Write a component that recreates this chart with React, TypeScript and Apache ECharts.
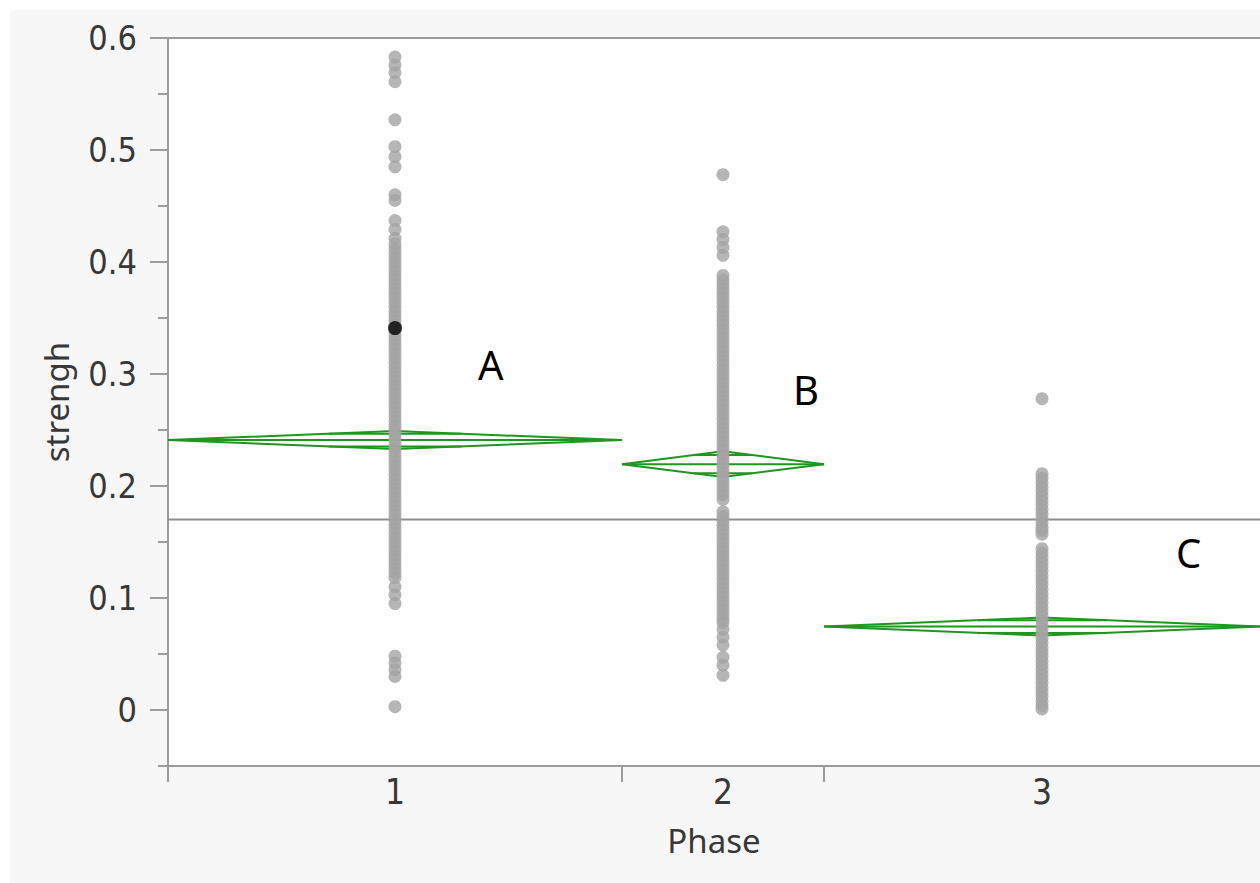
import React, { useEffect, useRef } from "react";
import * as echarts from "echarts";

const phases = ["1", "2", "3"];
const phaseWidths = [454, 202, 436];
const phaseMeans = [0.241, 0.2195, 0.0745];
const phaseCI = [0.008, 0.0115, 0.008];
const grandMean = 0.17;
const highlighted = { phase: 0, value: 0.341 };

const phase1Values = [
  0.583, 0.576, 0.569, 0.561, 0.527, 0.503, 0.494, 0.485, 0.46, 0.455, 0.437, 0.429, 0.421,
  0.416, 0.412, 0.408, 0.404, 0.4, 0.396, 0.392, 0.388, 0.384, 0.38, 0.376, 0.372, 0.368,
  0.364, 0.36, 0.356, 0.352, 0.348, 0.344, 0.338, 0.334, 0.33, 0.326, 0.322, 0.318, 0.314,
  0.31, 0.306, 0.302, 0.298, 0.294, 0.29, 0.286, 0.282, 0.278, 0.274, 0.27, 0.266, 0.262,
  0.258, 0.254, 0.25, 0.246, 0.242, 0.238, 0.234, 0.23, 0.226, 0.222, 0.218, 0.214, 0.21,
  0.206, 0.202, 0.198, 0.194, 0.19, 0.186, 0.182, 0.178, 0.174, 0.17, 0.166, 0.162, 0.158,
  0.154, 0.15, 0.146, 0.142, 0.138, 0.134, 0.13, 0.126, 0.122, 0.118,
  0.11, 0.103, 0.095, 0.048, 0.042, 0.036, 0.03, 0.003,
];
const phase2Values = [
  0.478, 0.427, 0.42, 0.413, 0.406,
  0.388, 0.384, 0.38, 0.376, 0.372, 0.368, 0.364, 0.36, 0.356, 0.352, 0.348, 0.344, 0.34,
  0.336, 0.332, 0.328, 0.324, 0.32, 0.316, 0.312, 0.308, 0.304, 0.3, 0.296, 0.292, 0.288,
  0.284, 0.28, 0.276, 0.272, 0.268, 0.264, 0.26, 0.256, 0.252, 0.248, 0.244, 0.24, 0.236,
  0.232, 0.228, 0.224, 0.22, 0.216, 0.212, 0.208, 0.204, 0.2, 0.196, 0.192, 0.188,
  0.177, 0.173, 0.169, 0.165, 0.161, 0.157, 0.153, 0.149, 0.145, 0.141, 0.137, 0.133, 0.129,
  0.125, 0.121, 0.117, 0.113, 0.109, 0.105, 0.101, 0.097, 0.093, 0.089, 0.085, 0.081, 0.078,
  0.072, 0.065, 0.058, 0.047, 0.04, 0.031,
];
const phase3Values = [
  0.278,
  0.211, 0.207, 0.203, 0.199, 0.195, 0.191, 0.187, 0.183, 0.179, 0.175, 0.171, 0.167, 0.163,
  0.16, 0.157,
  0.144, 0.14, 0.136, 0.132, 0.128, 0.124, 0.12, 0.116, 0.112, 0.108, 0.104, 0.1, 0.096,
  0.092, 0.088, 0.084, 0.08, 0.076, 0.072, 0.068, 0.064, 0.06, 0.056, 0.052, 0.048, 0.044,
  0.04, 0.036, 0.032, 0.028, 0.024, 0.02, 0.016, 0.012, 0.008, 0.004, 0.001,
];
const majorTicks = [0, 0.1, 0.2, 0.3, 0.4, 0.5, 0.6];
const minorTicks = [-0.05, 0.05, 0.15, 0.25, 0.35, 0.45, 0.55];
const annotations = ["A", "B", "C"];

const GREEN = "#1f961f";
const AXIS = "#9c9c9c";
const TEXT = "#383838";
const FONT = "'Noto Sans', 'Open Sans', sans-serif";
const NARROW = "'DejaVu Sans Condensed', 'Noto Sans', sans-serif";

export default function App() {
  const ref = useRef<HTMLDivElement>(null);
  useEffect(() => {
    if (!ref.current) return;
    const chart = echarts.init(ref.current, undefined, { renderer: "svg" });

    const bounds: number[] = [0];
    phaseWidths.forEach((w, i) => bounds.push(bounds[i] + w));
    const total = bounds[bounds.length - 1];
    const centers = phaseWidths.map((w, i) => bounds[i] + w / 2);

    const groups = [phase1Values, phase2Values, phase3Values];
    const pts: number[][] = [];
    groups.forEach((vals, g) => vals.forEach((v) => pts.push([centers[g], v])));

    const diamondData = phases.map((_, i) => [bounds[i], bounds[i + 1], phaseMeans[i], phaseCI[i]]);

    const option: any = {
      animation: false,
      grid: {
        left: 158,
        top: 28,
        right: 0,
        bottom: 117,
        show: true,
        backgroundColor: "#ffffff",
        borderWidth: 0,
      },
      xAxis: [
        {
          type: "value",
          min: 0,
          max: total,
          position: "bottom",
          name: "Phase",
          nameLocation: "middle",
          nameGap: 58,
          nameTextStyle: { fontFamily: FONT, fontSize: 33, color: TEXT },
          axisLine: { show: true, onZero: false, lineStyle: { color: AXIS, width: 2 } },
          axisTick: {
            show: true,
            customValues: bounds.slice(0, 3),
            length: 16,
            lineStyle: { color: AXIS, width: 2 },
          },
          axisLabel: {
            customValues: centers,
            formatter: (v: number) => {
              const i = centers.findIndex((c) => Math.abs(c - v) < 0.5);
              return i >= 0 ? phases[i] : "";
            },
            margin: 8,
            fontFamily: NARROW,
            fontSize: 35,
            lineHeight: 36,
            color: TEXT,
          },
          splitLine: { show: false },
        },
        {
          type: "value",
          min: 0,
          max: total,
          position: "top",
          axisLine: { show: true, onZero: false, lineStyle: { color: AXIS, width: 2 } },
          axisTick: { show: false },
          axisLabel: { show: false },
          splitLine: { show: false },
        },
      ],
      yAxis: [
        {
          type: "value",
          min: -0.05,
          max: 0.6,
          name: "strengh",
          nameLocation: "middle",
          nameRotate: 90,
          nameGap: 95,
          nameTextStyle: { fontFamily: FONT, fontSize: 33, color: TEXT },
          axisLine: { show: true, onZero: false, lineStyle: { color: AXIS, width: 2 } },
          axisTick: {
            show: true,
            customValues: majorTicks,
            length: 18,
            lineStyle: { color: AXIS, width: 2 },
          },
          axisLabel: {
            customValues: majorTicks,
            formatter: (v: number) => (Math.abs(v) < 1e-9 ? "0" : v.toFixed(1)),
            margin: 31,
            fontFamily: NARROW,
            fontSize: 34,
            color: TEXT,
          },
          splitLine: { show: false },
        },
        {
          type: "value",
          min: -0.05,
          max: 0.6,
          position: "left",
          axisLine: { show: false, onZero: false },
          axisTick: {
            show: true,
            customValues: minorTicks,
            length: 10,
            lineStyle: { color: AXIS, width: 2 },
          },
          axisLabel: { show: false },
          splitLine: { show: false },
        },
      ],
      series: [
        {
          type: "line",
          data: [
            [0, grandMean],
            [total, grandMean],
          ],
          symbol: "none",
          lineStyle: { color: "#8e8e8e", width: 2 },
          z: 1,
          silent: true,
        },
        {
          type: "custom",
          data: diamondData,
          z: 2,
          renderItem: (params: any, api: any) => {
            const x0 = api.value(0);
            const x1 = api.value(1);
            const m = api.value(2);
            const h = api.value(3);
            const xc = (x0 + x1) / 2;
            const L = api.coord([x0, m]);
            const R = api.coord([x1, m]);
            const T = api.coord([xc, m + h]);
            const B = api.coord([xc, m - h]);
            const k = 1 - 1 / Math.SQRT2;
            const half = (x1 - x0) / 2;
            const ou1 = api.coord([xc - half * k, m + h / Math.SQRT2]);
            const ou2 = api.coord([xc + half * k, m + h / Math.SQRT2]);
            const ol1 = api.coord([xc - half * k, m - h / Math.SQRT2]);
            const ol2 = api.coord([xc + half * k, m - h / Math.SQRT2]);
            const st = { stroke: GREEN, lineWidth: 2, fill: null };
            return {
              type: "group",
              children: [
                { type: "polygon", shape: { points: [L, T, R, B] }, style: st },
                { type: "line", shape: { x1: L[0], y1: L[1], x2: R[0], y2: R[1] }, style: st },
                { type: "line", shape: { x1: ou1[0], y1: ou1[1], x2: ou2[0], y2: ou2[1] }, style: st },
                { type: "line", shape: { x1: ol1[0], y1: ol1[1], x2: ol2[0], y2: ol2[1] }, style: st },
              ],
            };
          },
        },
        {
          type: "scatter",
          data: pts,
          symbolSize: 13,
          itemStyle: { color: "#a4a4a4" },
          z: 3,
        },
        {
          type: "scatter",
          data: [[centers[highlighted.phase], highlighted.value]],
          symbolSize: 14,
          itemStyle: { color: "#000000" },
          z: 4,
        },
      ],
      graphic: [
        { type: "text", left: 468, top: 334, style: { text: annotations[0], font: `40px ${FONT}`, fill: "#000" } },
        { type: "text", left: 783, top: 359, style: { text: annotations[1], font: `40px ${FONT}`, fill: "#000" } },
        { type: "text", left: 1166, top: 522, style: { text: annotations[2], font: `40px ${FONT}`, fill: "#000" } },
      ],
    };
    chart.setOption(option);
    return () => chart.dispose();
  }, []);

  return (
    <div style={{ position: "fixed", left: 0, top: 0, width: 1260, height: 883, background: "#ffffff", overflow: "hidden" }}>
      <div style={{ position: "absolute", left: 10, top: 10, width: 1250, height: 873, background: "#f7f7f7" }}>
        <div ref={ref} style={{ width: 1250, height: 873 }} />
      </div>
    </div>
  );
}
